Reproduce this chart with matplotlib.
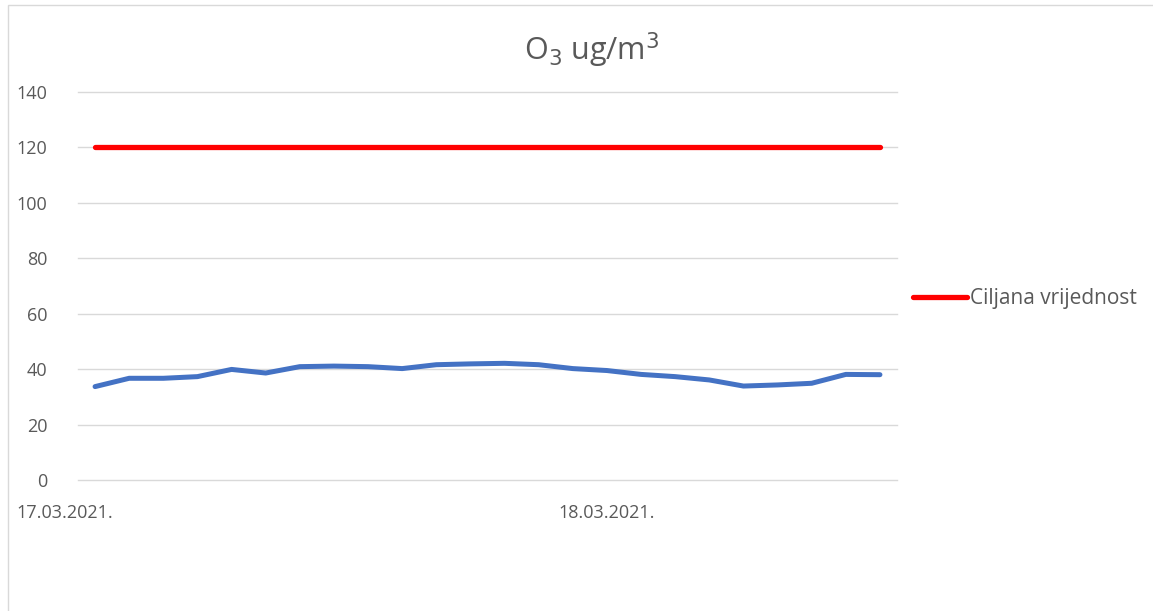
import matplotlib
matplotlib.use("Agg")
import matplotlib.pyplot as plt
import matplotlib.transforms as mtransforms
from matplotlib.patches import Rectangle

# Hourly O3 readings (ug/m3) and the target value
o3_values = [33.7, 36.7, 36.7, 37.3, 39.9, 38.6, 40.9, 41.1, 40.9, 40.2, 41.6, 41.9,
             42.1, 41.6, 40.2, 39.5, 38.1, 37.3, 36.1, 33.9, 34.3, 34.9, 38.1, 38.0]
target_value = 120
date_labels = ["17.03.2021.", "18.03.2021."]
date_label_pos = [-0.88, 15.0]
y_ticks = [0, 20, 40, 60, 80, 100, 120, 140]

text_color = "#595959"
plt.rcParams["font.family"] = ["Open Sans", "DejaVu Sans"]

fig = plt.figure(figsize=(11.53, 6.11), dpi=100)
ax = fig.add_axes([78 / 1153, 1 - 480 / 611, (897 - 78) / 1153, (480 - 92) / 611])

x = list(range(len(o3_values)))
ax.plot(x, o3_values, color="#4472C4", lw=3.6, solid_capstyle="round", zorder=3)
target_line, = ax.plot(x, [target_value] * len(x), color="#FF0000", lw=3.8,
                       solid_capstyle="round", zorder=3)

ax.set_xlim(-0.5, len(x) - 0.5)
ax.set_ylim(0, 140)
ax.set_yticks(y_ticks)
ax.set_xticks([])
ax.grid(axis="y", color="#D9D9D9", lw=1)
for gl in ax.get_ygridlines():
    gl.set_clip_on(False)
ax.set_axisbelow(True)
for s in ax.spines.values():
    s.set_visible(False)
ax.tick_params(axis="y", length=0, pad=22, labelsize=13, labelcolor=text_color)

# date labels under the axis
trans = mtransforms.blended_transform_factory(ax.transData, ax.transAxes)
for pos, lab in zip(date_label_pos, date_labels):
    ax.text(pos, -0.085, lab, transform=trans, ha="center", va="center",
            fontsize=13, color=text_color, clip_on=False)

fig.text(592 / 1153, 1 - 50 / 611, r"O$_3$ ug/m$^3$", ha="center", va="center",
         fontsize=22, color=text_color)

fig.legend([target_line], ["Ciljana vrijednost"], loc="center left",
           bbox_to_anchor=(894 / 1153, 1 - 299 / 611), frameon=False,
           fontsize=15, labelcolor=text_color, handlelength=2.6, handletextpad=0.15)

# chart area border
fig.patches.append(Rectangle((8 / 1153, -0.01), 1.0, 1 - 5 / 611 + 0.01,
                             transform=fig.transFigure, fill=False,
                             edgecolor="#D9D9D9", lw=1))

fig.savefig("out.png", dpi=100)
